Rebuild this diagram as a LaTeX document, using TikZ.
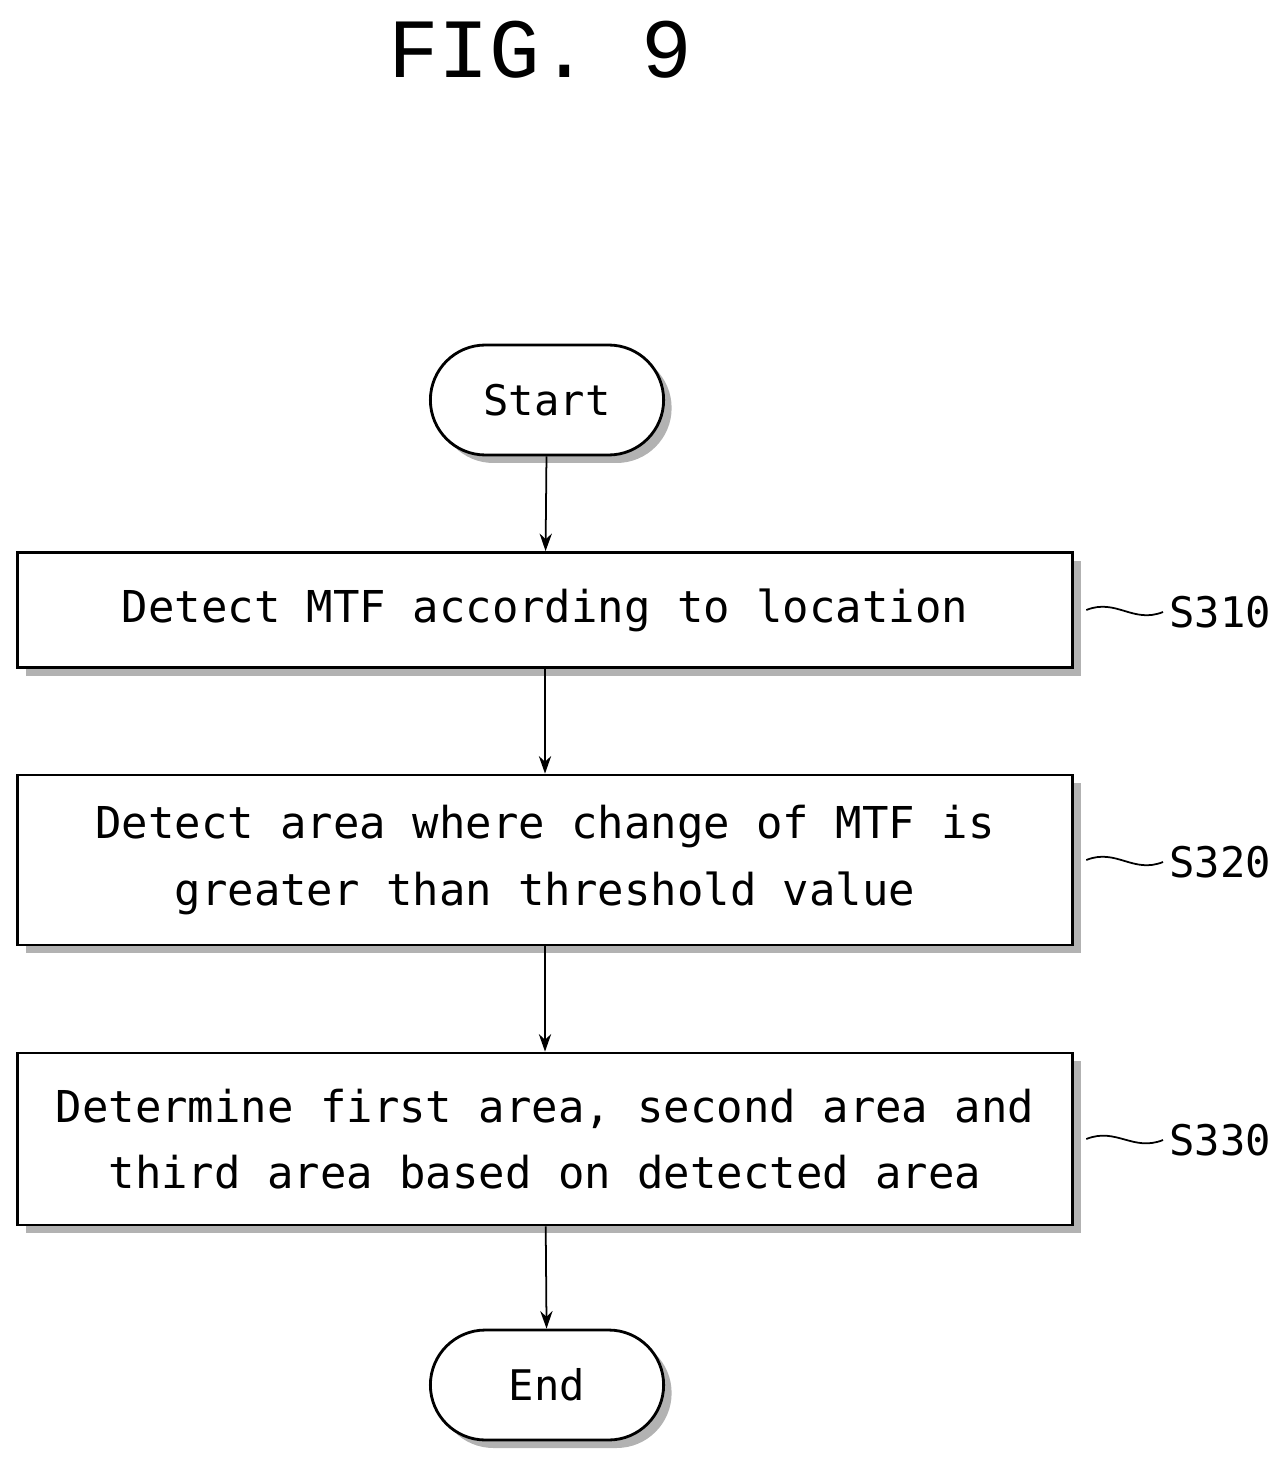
\documentclass[tikz,border=0pt]{standalone}
\usepackage{fontspec}
\setmainfont{DejaVu Sans Mono}
\newfontfamily\titlefont{Liberation Mono}
\usetikzlibrary{arrows.meta,shapes.misc}
\begin{document}
\begin{tikzpicture}[x=0.02cm,y=-0.02cm,
  box/.style={draw,line width=1.6pt,fill=white,minimum width=21.1cm,align=center,font=\fontsize{25}{38}\selectfont,inner sep=0pt},
  term/.style={draw,line width=1.6pt,fill=white,rounded rectangle,minimum width=4.9cm,minimum height=2.2cm,font=\fontsize{24}{30}\selectfont},
  tshadow/.style={fill=gray!60,rounded rectangle,minimum width=4.9cm,minimum height=2.2cm},
  arr/.style={line width=1pt,-{Stealth[length=10pt,width=7pt]}},
  lbl/.style={font=\fontsize{24}{30}\selectfont},
  wav/.style={line width=1pt}]
\useasboundingbox (0,0) rectangle (1280,1462);
\node[font=\titlefont\fontsize{48}{50}\selectfont] (title) at (540,50) {FIG. 9};
% shadows
\node[tshadow] (sh1) at (555,408) {};
\node[tshadow] (sh2) at (555,1393) {};
\fill[gray!60] (26,561) rectangle (1081,676);
\fill[gray!60] (26,783) rectangle (1081,953);
\fill[gray!60] (26,1061) rectangle (1081,1233);
\node[term] (start) at (547,400) {Start};
\node[box,minimum height=2.3cm] (s1) at (545,610) {Detect MTF according to location};
\node[box,minimum height=3.4cm] (s2) at (545,860) {Detect area where change of MTF is\\greater than threshold value};
\node[box,minimum height=3.44cm] (s3) at (545,1139) {Determine first area, second area and\\third area based on detected area};
\node[term] (end) at (547,1385) {End};
\draw[arr] (start) -- (s1);
\draw[arr] (s1) -- (s2);
\draw[arr] (s2) -- (s3);
\draw[arr] (s3) -- (end);
\node[lbl] (l1) at (1220,612) {S310};
\node[lbl] (l2) at (1220,862) {S320};
\node[lbl] (l3) at (1220,1140) {S330};
\foreach \b/\l in {s1/l1,s2/l2,s3/l3}{
  \draw[wav] ([xshift=0.25cm]\b.east) .. controls +(30,-12) and +(-30,12) .. (\l.west);
}
\end{tikzpicture}
\end{document}
